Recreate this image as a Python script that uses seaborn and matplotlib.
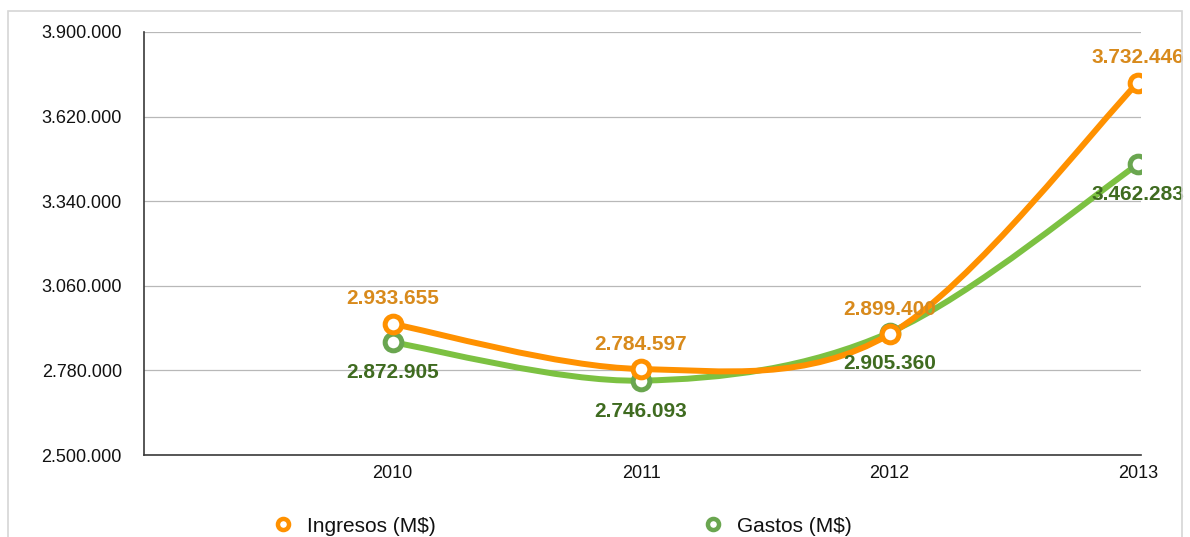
import numpy as np
import pandas as pd
import matplotlib
matplotlib.use('Agg')
import matplotlib.pyplot as plt
from matplotlib.path import Path
from matplotlib.patches import PathPatch, Rectangle
from matplotlib.lines import Line2D
import seaborn as sns

# ── data ──
years = ['2010', '2011', '2012', '2013']
ingresos = [2933655, 2784597, 2899400, 3732446]
gastos = [2872905, 2746093, 2905360, 3462283]
y_ticks = [2500000, 2780000, 3060000, 3340000, 3620000, 3900000]

ORANGE = '#FF9100'
ORANGE_TXT = '#D88A1C'
GREEN = '#7CC142'
GREEN_MK = '#6AA650'
GREEN_TXT = '#3F6B20'

sns.set_theme(style='white')
plt.rcParams['font.family'] = ['Liberation Sans', 'DejaVu Sans']

fig = plt.figure(figsize=(11.9, 5.37), dpi=100)
ax = fig.add_axes([144 / 1190, 1 - 455 / 537, (1141 - 144) / 1190, (455 - 32) / 537])

# light outer frame
fig.patches.append(Rectangle((8 / 1190, -0.1), (1182 - 8) / 1190, 1.1 - 11 / 537,
                             transform=fig.transFigure, fill=False,
                             edgecolor='#D6D6D6', linewidth=1.2))

pos = np.arange(1, len(years) + 1)


def smooth_path(xs, ys):
    # Catmull-Rom curve as cubic bezier segments
    pts = np.column_stack([xs, ys]).astype(float)
    ext = np.vstack([pts[0], pts, pts[-1]])
    verts = [pts[0]]
    codes = [Path.MOVETO]
    for i in range(1, len(ext) - 2):
        p0, p1, p2, p3 = ext[i - 1], ext[i], ext[i + 1], ext[i + 2]
        verts += [p1 + (p2 - p0) / 6, p2 - (p3 - p1) / 6, p2]
        codes += [Path.CURVE4] * 3
    return Path(verts, codes)


series = [
    ('Gastos (M$)', gastos, GREEN, GREEN_MK, GREEN_TXT, -22),
    ('Ingresos (M$)', ingresos, ORANGE, ORANGE, ORANGE_TXT, 18),
]

for name, vals, lc, mc, tc, off in series:
    ax.add_patch(PathPatch(smooth_path(pos, vals), facecolor='none', edgecolor=lc,
                           linewidth=4.3, capstyle='round', joinstyle='round', zorder=3))
    df = pd.DataFrame({'x': pos, 'y': vals})
    sns.lineplot(data=df, x='x', y='y', ax=ax, linestyle='', marker='o',
                 markersize=12, markerfacecolor='white', markeredgecolor=mc,
                 markeredgewidth=3.6, zorder=4)
    for xp, v in zip(pos, vals):
        ax.annotate(f'{v:,}'.replace(',', '.'), (xp, v), xytext=(0, off),
                    textcoords='offset points', ha='center', va='center',
                    fontsize=15, fontweight='bold', color=tc, zorder=5)

ax.set_xlim(0, 4.012)
ax.set_ylim(2500000, 3900000)
ax.set_yticks(y_ticks)
ax.set_yticklabels([f'{t:,}'.replace(',', '.') for t in y_ticks])
ax.set_xticks(pos)
ax.set_xticklabels(years)
ax.set_xlabel('')
ax.set_ylabel('')
ax.tick_params(axis='y', length=0, pad=16, labelsize=13, labelcolor='#111111')
ax.tick_params(axis='x', length=0, pad=7, labelsize=13, labelcolor='#111111')
ax.yaxis.grid(True, color='#B8B8B8', linewidth=0.9)
ax.set_axisbelow(True)
for s in ['top', 'right']:
    ax.spines[s].set_visible(False)
for s in ['left', 'bottom']:
    ax.spines[s].set_color('#3A3A3A')
    ax.spines[s].set_linewidth(1.2)
ax.spines['bottom'].set_zorder(2)

handles = [Line2D([], [], linestyle='', marker='o', markersize=8, markerfacecolor='white',
                  markeredgecolor=ORANGE, markeredgewidth=3.2),
           Line2D([], [], linestyle='', marker='o', markersize=8, markerfacecolor='white',
                  markeredgecolor=GREEN_MK, markeredgewidth=3.2)]
fig.legend(handles, ['Ingresos (M$)', 'Gastos (M$)'], loc='center left',
           bbox_to_anchor=(272.6 / 1190, 11 / 537), ncol=2, frameon=False,
           fontsize=15, handlelength=1.0, handletextpad=0.65, columnspacing=12.8,
           borderpad=0, borderaxespad=0, labelcolor='#111111')

fig.savefig('out.png', dpi=100, facecolor='white')
